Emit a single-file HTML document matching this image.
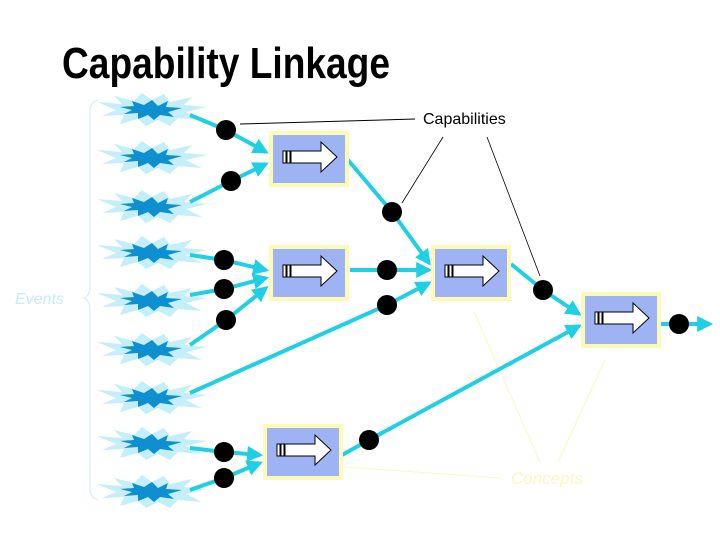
<!DOCTYPE html>
<html><head><meta charset="utf-8"><style>
html,body{margin:0;padding:0;background:#fff;width:720px;height:540px;overflow:hidden}
</style></head><body>
<svg width="720" height="540" viewBox="0 0 720 540" xmlns="http://www.w3.org/2000/svg">
<defs>
<marker id="ah" markerWidth="4" markerHeight="4" refX="3.2" refY="2" orient="auto" markerUnits="strokeWidth">
<path d="M0,0 L4,2 L0,4 z" fill="#1fcfe4"/>
</marker>
<g id="star">
<polygon fill="#c4eef8" points="-55,-8 -30,-6 -38,-14 -18,-9 -10,-17 0,-10 12,-16 18,-8 40,-13 32,-5 55,-3 34,2 50,10 26,8 18,16 6,10 -6,16 -14,9 -32,14 -28,5 -50,6 -36,0"/>
<polygon fill="#0e8fcf" points="-32,-3 -18,-4 -20,-9 -8,-5 0,-10 6,-4 16,-9 14,-3 30,-2 16,2 22,7 8,5 2,10 -4,5 -14,9 -14,3 -28,4 -20,0"/>
</g>
<g id="box">
<rect x="0" y="0" width="80" height="56" fill="#fdfab4"/>
<rect x="4" y="4" width="72" height="48" fill="#9db3f3"/>
<rect x="14" y="20" width="3" height="12" fill="#fff" stroke="#000" stroke-width="1"/>
<rect x="18" y="20" width="3" height="12" fill="#fff" stroke="#000" stroke-width="1"/>
<polygon points="22,20 52,20 52,11 68,26 52,41 52,32 22,32" fill="#fff" stroke="#000" stroke-width="1"/>
</g>
</defs>

<text x="62" y="78" font-family="Liberation Sans, sans-serif" font-weight="bold" font-size="44" textLength="328" lengthAdjust="spacingAndGlyphs" fill="#000">Capability Linkage</text>

<!-- brace -->
<path d="M98,100 Q90,102 90,112 L90,285 Q90,296 84,298 Q90,300 90,311 L90,488 Q90,498 98,500" fill="none" stroke="#d6eef4" stroke-width="1.2"/>
<text x="15" y="304" font-family="Liberation Sans, sans-serif" font-style="italic" font-size="16" fill="#c8ecf4">Events</text>

<!-- stars -->
<use href="#star" x="152" y="110"/>
<use href="#star" x="152" y="158"/>
<use href="#star" x="152" y="207"/>
<use href="#star" x="152" y="253"/>
<use href="#star" x="152" y="301"/>
<use href="#star" x="152" y="350"/>
<use href="#star" x="152" y="398"/>
<use href="#star" x="152" y="444"/>
<use href="#star" x="152" y="492"/>

<!-- annotation lines -->
<polyline points="240,124 415,119" fill="none" stroke="#000" stroke-width="1"/>
<line x1="443" y1="137" x2="402" y2="203" stroke="#000" stroke-width="0.8"/>
<line x1="487" y1="137" x2="540" y2="276" stroke="#000" stroke-width="0.8"/>
<text x="423" y="124" font-family="Liberation Sans, sans-serif" font-size="16" fill="#000">Capabilities</text>

<line x1="345" y1="467" x2="500" y2="478" stroke="#fbf7c0" stroke-width="1"/>
<line x1="474" y1="312" x2="540" y2="462" stroke="#fbf7c0" stroke-width="1"/>
<line x1="605" y1="360" x2="558" y2="462" stroke="#fbf7c0" stroke-width="1"/>
<text x="511" y="484" font-family="Liberation Sans, sans-serif" font-style="italic" font-size="17" fill="#fbf7c0">Concepts</text>

<!-- connectors -->
<g stroke="#1fcfe4" stroke-width="4" fill="none" marker-end="url(#ah)">
<polyline points="190,115 226,130 266,152"/>
<polyline points="190,202 231,181 266,164"/>
<polyline points="190,255 224,260 266,270"/>
<polyline points="190,295 224,289 266,278"/>
<polyline points="190,345 226,320 266,288"/>
<polyline points="348,160 392,212 429,263"/>
<polyline points="350,270 387,270 429,270"/>
<polyline points="190,393 387,305 429,283"/>
<polyline points="511,264 543,290 579,314"/>
<polyline points="342,455 369,440 579,326"/>
<polyline points="661,324 679,324 710,324"/>
<polyline points="190,448 224,452 260,455"/>
<polyline points="190,490 224,478 260,463"/>
</g>

<!-- boxes -->
<use href="#box" x="269" y="131"/>
<use href="#box" x="269" y="245"/>
<use href="#box" x="431" y="245"/>
<use href="#box" x="581" y="292"/>
<use href="#box" x="263" y="424"/>

<!-- dots -->
<g fill="#000">
<circle cx="226" cy="130" r="10"/>
<circle cx="231" cy="181" r="10"/>
<circle cx="392" cy="212" r="10"/>
<circle cx="224" cy="260" r="10"/>
<circle cx="224" cy="289" r="10"/>
<circle cx="226" cy="320" r="10"/>
<circle cx="387" cy="270" r="10"/>
<circle cx="387" cy="305" r="10"/>
<circle cx="543" cy="290" r="10"/>
<circle cx="679" cy="324" r="10"/>
<circle cx="224" cy="452" r="10"/>
<circle cx="224" cy="478" r="10"/>
<circle cx="369" cy="440" r="10"/>
</g>
</svg>
</body></html>
